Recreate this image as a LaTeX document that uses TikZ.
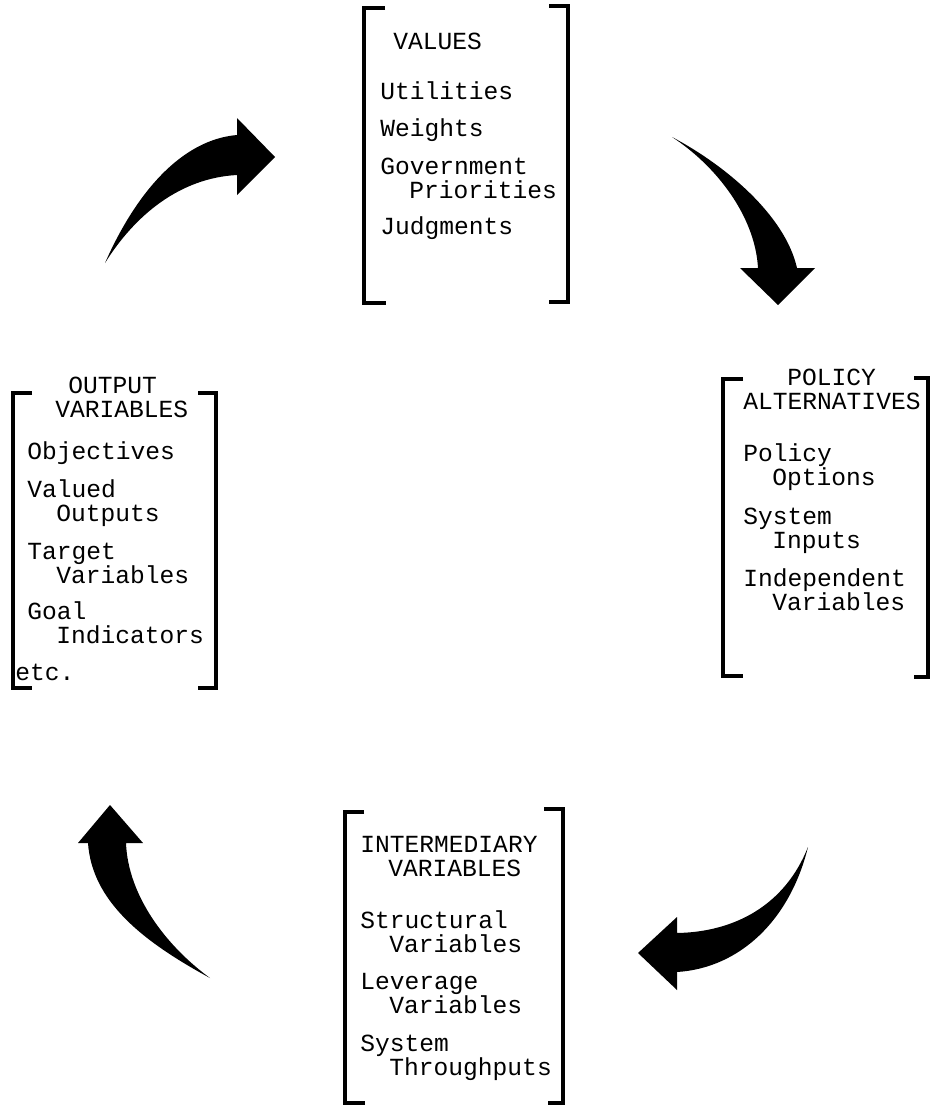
\documentclass[tikz,border=0pt]{standalone}
\usepackage{fontspec}
\newfontfamily\typewr{Liberation Mono}
\tikzset{
  brk/.style={line width=2pt, line join=miter},
  bigarrow/.style={fill=black, draw=none},
  listtext/.style={anchor=base west, align=left, inner sep=0pt,
    font=\typewr\fontsize{12.3}{12}\selectfont}
}
\newcommand{\ind}{\hspace*{14.5pt}}
\begin{document}
\begin{tikzpicture}[x=0.5pt,y=-0.5pt]
  \useasboundingbox (0,0) rectangle (940,1108);

  % brackets
  \draw[brk] (385,8) -- (364,8) -- (364,303) -- (386,303);% values left
  \draw[brk] (549,6) -- (568,6) -- (568,302) -- (549,302);% values right
  \draw[brk] (32,393) -- (13,393) -- (13,688) -- (32,688);% output left
  \draw[brk] (198,393) -- (216,393) -- (216,688) -- (198,688);% output right
  \draw[brk] (743,379) -- (723,379) -- (723,676) -- (743,676);% policy left
  \draw[brk] (914,378) -- (928,378) -- (928,677) -- (914,677);% policy right
  \draw[brk] (364,812) -- (345,812) -- (345,1103) -- (365,1103);% intermediary left
  \draw[brk] (544,809) -- (563,809) -- (563,1103) -- (548,1103);% intermediary right

  % texts (anchored at the baseline of their last line)
  \node[listtext] (values) at (380,234) {\hspace*{6.5pt}VALUES\\[13pt]
    Utilities\\[6.5pt]
    Weights\\[7pt]
    Government\\
    \ind Priorities\\[6pt]
    Judgments};
  \node[listtext] (output) at (27,680) {\hspace*{20.5pt}OUTPUT\\
    \hspace*{14pt}VARIABLES\\[9pt]
    Objectives\\[7pt]
    Valued\\
    \ind Outputs\\[7pt]
    Target\\
    \ind Variables\\[6pt]
    Goal\\
    \ind Indicators\\[6.5pt]
    \hspace*{-6pt}etc.};
  \node[listtext] (policy) at (743,610) {\hspace*{22pt}POLICY\\
    ALTERNATIVES\\[14pt]
    Policy\\
    \ind Options\\[7.5pt]
    System\\
    \ind Inputs\\[7pt]
    Independent\\
    \ind Variables};
  \node[listtext] (interm) at (360,1075) {INTERMEDIARY\\
    \hspace*{14pt}VARIABLES\\[14pt]
    Structural\\
    \ind Variables\\[6.5pt]
    Leverage\\
    \ind Variables\\[7pt]
    System\\
    \ind Throughputs};

  % arrows
  \fill[bigarrow] (105,263) .. controls (135,195) and (180,140) .. (237,135)
    -- (237,118) -- (275,157) -- (237,195) -- (237,175)
    .. controls (180,178) and (135,215) .. cycle;% output to values
  \fill[bigarrow] (672,137) .. controls (725,165) and (785,215) .. (797,268)
    -- (815,268) -- (778,305) -- (740,268) -- (758,268)
    .. controls (755,215) and (715,165) .. cycle;% values to policy
  \fill[bigarrow] (808,847) .. controls (785,905) and (735,932) .. (677,933)
    -- (677,917) -- (638,953) -- (677,990) -- (677,972)
    .. controls (740,968) and (790,920) .. cycle;% policy to intermediary
  \fill[bigarrow] (210,978) .. controls (140,940) and (92,900) .. (88,843)
    -- (78,843) -- (110,805) -- (143,843) -- (126,843)
    .. controls (128,895) and (165,945) .. cycle;% intermediary to output
\end{tikzpicture}
\end{document}
